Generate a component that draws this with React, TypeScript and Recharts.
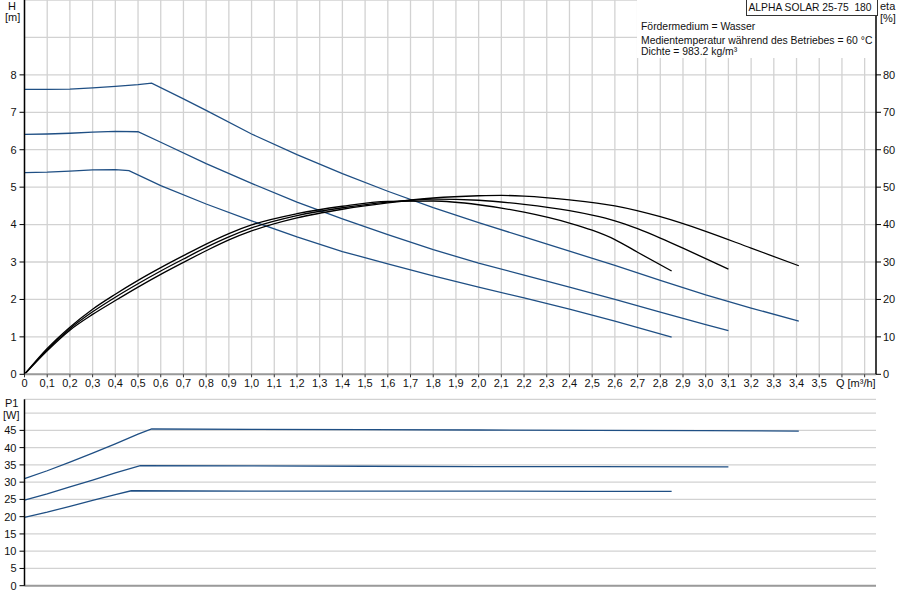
import React from 'react';
import { LineChart, Line, XAxis, YAxis, CartesianGrid } from 'recharts';

// axis ticks
const qTicks = [0, 0.1, 0.2, 0.3, 0.4, 0.5, 0.6, 0.7, 0.8, 0.9, 1, 1.1, 1.2, 1.3, 1.4, 1.5, 1.6, 1.7, 1.8, 1.9, 2, 2.1, 2.2, 2.3, 2.4, 2.5, 2.6, 2.7, 2.8, 2.9, 3, 3.1, 3.2, 3.3, 3.4, 3.5, 3.6, 3.7];
const hTicks = [0, 1, 2, 3, 4, 5, 6, 7, 8];
const hGrid = [0, 1, 2, 3, 4, 5, 6, 7, 8, 9, 10];
const etaTicks = [0, 10, 20, 30, 40, 50, 60, 70, 80];
const pTicks = [0, 5, 10, 15, 20, 25, 30, 35, 40, 45];
const pGrid = [0, 5, 10, 15, 20, 25, 30, 35, 40, 45, 50, 54];

// head curves H [m]
const head1Q = [0, 0.1, 0.2, 0.3, 0.4, 0.5, 0.56, 0.7, 0.8, 1.0, 1.2, 1.4, 1.6, 1.8, 2.0, 2.2, 2.4, 2.6, 2.8, 3.0, 3.2, 3.41];
const head1H = [7.61, 7.61, 7.62, 7.65, 7.69, 7.74, 7.78, 7.36, 7.05, 6.42, 5.87, 5.36, 4.89, 4.45, 4.05, 3.67, 3.29, 2.91, 2.51, 2.12, 1.77, 1.42];
const head2Q = [0, 0.1, 0.2, 0.3, 0.4, 0.5, 0.6, 0.8, 1.0, 1.2, 1.4, 1.6, 1.8, 2.0, 2.2, 2.4, 2.6, 2.8, 3.0, 3.1];
const head2H = [6.41, 6.42, 6.44, 6.47, 6.49, 6.48, 6.2, 5.63, 5.1, 4.6, 4.15, 3.73, 3.33, 2.97, 2.65, 2.33, 2.0, 1.66, 1.33, 1.17];
const head3Q = [0, 0.1, 0.2, 0.3, 0.4, 0.46, 0.6, 0.8, 1.0, 1.2, 1.4, 1.6, 1.8, 2.0, 2.2, 2.4, 2.6, 2.85];
const head3H = [5.39, 5.4, 5.43, 5.46, 5.47, 5.44, 5.04, 4.55, 4.1, 3.67, 3.28, 2.95, 2.63, 2.33, 2.04, 1.74, 1.42, 0.99];

// efficiency curves eta [%]
const eta1Q = [0, 0.1, 0.2, 0.3, 0.4, 0.5, 0.6, 0.7, 0.8, 0.9, 1.0, 1.2, 1.4, 1.6, 1.8, 2.0, 2.1, 2.2, 2.4, 2.6, 2.8, 3.0, 3.2, 3.41];
const eta1 = [0, 6.3, 11.8, 16.0, 19.7, 23.3, 26.7, 29.9, 33.0, 35.9, 38.3, 41.8, 44.1, 45.8, 47.1, 47.7, 47.8, 47.6, 46.6, 45.0, 42.1, 38.2, 33.7, 29.0];
const eta2Q = [0, 0.1, 0.2, 0.3, 0.4, 0.5, 0.6, 0.7, 0.8, 0.9, 1.0, 1.2, 1.4, 1.6, 1.8, 2.0, 2.2, 2.4, 2.5, 2.6, 2.7, 2.8, 2.9, 3.0, 3.1];
const eta2 = [0, 6.6, 12.2, 16.7, 20.6, 24.2, 27.6, 30.8, 33.9, 36.7, 39.1, 42.4, 44.5, 46.0, 46.8, 46.5, 45.4, 43.7, 42.5, 41.0, 38.9, 36.4, 33.7, 30.9, 28.1];
const eta3Q = [0, 0.1, 0.2, 0.3, 0.4, 0.5, 0.6, 0.7, 0.8, 0.9, 1.0, 1.2, 1.4, 1.6, 1.8, 2.0, 2.2, 2.4, 2.5, 2.6, 2.7, 2.85];
const eta3 = [0, 6.9, 12.6, 17.4, 21.4, 25.1, 28.5, 31.7, 34.8, 37.6, 39.9, 42.9, 44.9, 46.2, 46.3, 45.3, 43.3, 40.4, 38.5, 36.0, 32.6, 27.6];

// power curves P1 [W]
const pow1Q = [0, 0.1, 0.2, 0.3, 0.4, 0.5, 0.56, 1.0, 1.5, 2.0, 2.5, 3.0, 3.41];
const pow1 = [31.0, 33.3, 35.8, 38.4, 41.1, 43.9, 45.4, 45.3, 45.2, 45.1, 45.0, 44.9, 44.8];
const pow2Q = [0, 0.1, 0.2, 0.3, 0.4, 0.51, 1.0, 1.5, 2.0, 2.5, 3.1];
const pow2 = [24.8, 26.6, 28.6, 30.6, 32.7, 34.8, 34.7, 34.6, 34.5, 34.5, 34.4];
const pow3Q = [0, 0.1, 0.2, 0.3, 0.4, 0.47, 1.0, 1.5, 2.0, 2.5, 2.85];
const pow3 = [19.8, 21.3, 23.0, 24.7, 26.4, 27.5, 27.4, 27.4, 27.4, 27.3, 27.3];

const zip = (qs: number[], vs: number[]) => qs.map((q, i) => ({ q, v: vs[i] }));

const BLUE = '#1f4f84';
const FONT = '"Liberation Sans", Arial, sans-serif';
const tickStyle = { fontSize: 11, fill: '#111', fontFamily: FONT };

function QTick(props: any) {
  const { x, y, payload } = props;
  const v = payload.value as number;
  if (v > 3.65) return <g />;
  let label = v === 0 ? '0' : v.toFixed(1).replace('.', ',');
  let anchor = 'middle';
  let tx = x;
  if (Math.abs(v - 3.6) < 1e-6) {
    label = 'Q [m³/h]';
    anchor = 'start';
    tx = x - 6;
  }
  return (
    <text x={tx} y={y} dy="0.71em" textAnchor={anchor} {...tickStyle}>
      {label}
    </text>
  );
}

const txt = (left: number, top: number, s: string, size = 11) => (
  <div style={{ position: 'absolute', left, top, fontSize: size, lineHeight: '13px', whiteSpace: 'pre', color: '#111' }}>{s}</div>
);

export default function App() {
  return (
    <div style={{ position: 'fixed', left: 0, top: 0, width: 900, height: 600, background: '#fff', fontFamily: FONT, overflow: 'hidden' }}>
      <div style={{ position: 'absolute', left: 0, top: 0 }}>
        <LineChart width={900} height={395} margin={{ top: 0, right: 0, bottom: 0, left: 0 }}>
          <CartesianGrid yAxisId="h" stroke="#d2d2d2" strokeWidth={1.3} horizontalValues={hGrid} verticalValues={qTicks} />
          <XAxis
            dataKey="q"
            type="number"
            domain={[0, 3.75]}
            ticks={qTicks}
            interval={0}
            height={20.7}
            tickSize={3}
            tickMargin={2}
            tick={<QTick />}
            axisLine={{ stroke: '#9a9a9a', strokeWidth: 2 }}
            tickLine={{ stroke: '#333' }}
          />
          <YAxis
            yAxisId="h"
            type="number"
            domain={[0, 10]}
            ticks={hTicks}
            interval={0}
            width={24.5}
            tickSize={5}
            tickMargin={3}
            tick={tickStyle}
            axisLine={{ stroke: '#000', strokeWidth: 1.5 }}
            tickLine={{ stroke: '#000' }}
          />
          <YAxis
            yAxisId="eta"
            orientation="right"
            type="number"
            domain={[0, 100]}
            ticks={etaTicks}
            interval={0}
            width={24}
            tickSize={5}
            tickMargin={2}
            tick={tickStyle}
            axisLine={{ stroke: '#000', strokeWidth: 1.5 }}
            tickLine={{ stroke: '#000' }}
          />
          <Line yAxisId="h" data={zip(head1Q, head1H)} dataKey="v" type="linear" stroke={BLUE} strokeWidth={1.3} dot={false} isAnimationActive={false} />
          <Line yAxisId="h" data={zip(head2Q, head2H)} dataKey="v" type="linear" stroke={BLUE} strokeWidth={1.3} dot={false} isAnimationActive={false} />
          <Line yAxisId="h" data={zip(head3Q, head3H)} dataKey="v" type="linear" stroke={BLUE} strokeWidth={1.3} dot={false} isAnimationActive={false} />
          <Line yAxisId="eta" data={zip(eta1Q, eta1)} dataKey="v" type="monotone" stroke="#000" strokeWidth={1.3} dot={false} isAnimationActive={false} />
          <Line yAxisId="eta" data={zip(eta2Q, eta2)} dataKey="v" type="monotone" stroke="#000" strokeWidth={1.3} dot={false} isAnimationActive={false} />
          <Line yAxisId="eta" data={zip(eta3Q, eta3)} dataKey="v" type="monotone" stroke="#000" strokeWidth={1.3} dot={false} isAnimationActive={false} />
        </LineChart>
      </div>

      <div style={{ position: 'absolute', left: 0, top: 395 }}>
        <LineChart width={900} height={205} margin={{ top: 4.3, right: 24, bottom: 0, left: 0 }}>
          <CartesianGrid yAxisId="p" stroke="#d2d2d2" strokeWidth={1.3} horizontalValues={pGrid} verticalValues={[...qTicks, 3.75]} />
          <XAxis
            dataKey="q"
            type="number"
            domain={[0, 3.75]}
            ticks={qTicks}
            height={14.3}
            tick={false}
            tickLine={false}
            axisLine={{ stroke: '#9a9a9a', strokeWidth: 2 }}
          />
          <YAxis
            yAxisId="p"
            type="number"
            domain={[0, 54]}
            ticks={pTicks}
            interval={0}
            width={24.5}
            tickSize={5}
            tickMargin={3}
            tick={tickStyle}
            axisLine={{ stroke: '#000', strokeWidth: 1.5 }}
            tickLine={{ stroke: '#000' }}
          />
          <Line yAxisId="p" data={zip(pow1Q, pow1)} dataKey="v" type="linear" stroke={BLUE} strokeWidth={1.3} dot={false} isAnimationActive={false} />
          <Line yAxisId="p" data={zip(pow2Q, pow2)} dataKey="v" type="linear" stroke={BLUE} strokeWidth={1.3} dot={false} isAnimationActive={false} />
          <Line yAxisId="p" data={zip(pow3Q, pow3)} dataKey="v" type="linear" stroke={BLUE} strokeWidth={1.3} dot={false} isAnimationActive={false} />
        </LineChart>
      </div>

      <div style={{ position: 'absolute', left: 637, top: 0, width: 238, height: 58, background: '#fff' }} />
      <div
        style={{
          position: 'absolute',
          left: 745.5,
          top: -1,
          width: 128,
          height: 15,
          border: '1px solid #333',
          fontSize: 10.3,
          lineHeight: '16px',
          paddingLeft: 2,
          whiteSpace: 'pre',
          color: '#111',
          background: '#fff',
        }}
      >
        {'ALPHA SOLAR 25-75  180'}
      </div>
      {txt(641, 20, 'Fördermedium = Wasser', 10.4)}
      {txt(641, 33.5, 'Medientemperatur während des Betriebes = 60 °C', 10.4)}
      {txt(641, 45, 'Dichte = 983.2 kg/m³', 10.4)}

      {txt(8, 0, 'H')}
      {txt(5, 11, '[m]')}
      {txt(880, 0, 'eta')}
      {txt(880, 12, '[%]')}
      {txt(5, 397, 'P1')}
      {txt(3, 409, '[W]')}
    </div>
  );
}
